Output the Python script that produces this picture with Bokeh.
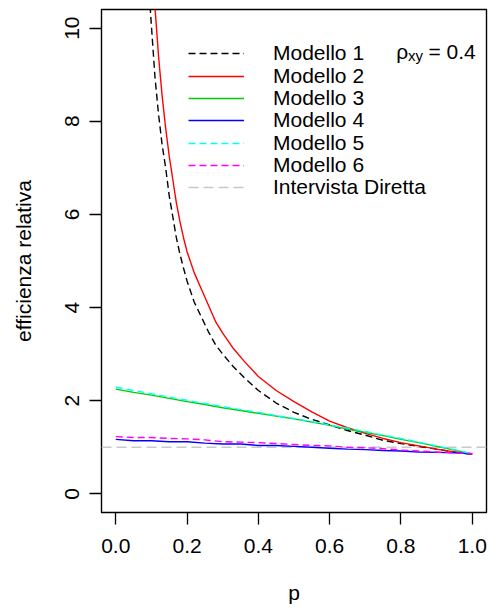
from bokeh.plotting import figure
from bokeh.models import Range1d, FixedTicker, Legend, LegendItem, Label
from bokeh.embed import file_html
from bokeh.resources import INLINE

# --- relative efficiency vs p, rho_xy = 0.4 ---
# Modello 1 and 2 diverge near p = 0, so they start further right
p_steep = [0.08, 0.09, 0.10, 0.11, 0.12, 0.13, 0.14, 0.15, 0.16, 0.17, 0.18, 0.19,
           0.20, 0.22, 0.24, 0.26, 0.28, 0.30, 0.33, 0.36, 0.40, 0.45, 0.50, 0.55,
           0.60, 0.65, 0.70, 0.75, 0.80, 0.85, 0.90, 0.95, 1.00]
modello1 = [12.6, 11.2, 10.05, 8.95, 8.15, 7.5, 7.0, 6.4, 5.95, 5.5, 5.15, 4.85,
            4.57, 4.12, 3.80, 3.48, 3.20, 3.00, 2.73, 2.50, 2.22, 1.95, 1.75, 1.60,
            1.48, 1.36, 1.26, 1.15, 1.08, 1.02, 0.96, 0.90, 0.85]
modello2 = [14.5, 12.9, 11.6, 10.45, 9.4, 8.55, 7.85, 7.25, 6.75, 6.25, 5.85, 5.5,
            5.2, 4.75, 4.4, 4.05, 3.7, 3.45, 3.12, 2.85, 2.52, 2.22, 1.98, 1.76,
            1.56, 1.42, 1.30, 1.19, 1.10, 1.03, 0.96, 0.90, 0.85]

p_grid = [0.00, 0.05, 0.10, 0.15, 0.20, 0.25, 0.30, 0.35, 0.40, 0.45, 0.50,
          0.55, 0.60, 0.65, 0.70, 0.75, 0.80, 0.85, 0.90, 0.95, 1.00]
modello3 = [2.25, 2.18, 2.12, 2.05, 1.98, 1.92, 1.85, 1.79, 1.73, 1.67, 1.61,
            1.54, 1.47, 1.39, 1.32, 1.25, 1.17, 1.10, 1.02, 0.94, 0.86]
modello4 = [1.17, 1.14, 1.14, 1.12, 1.12, 1.09, 1.07, 1.07, 1.04, 1.04, 1.02,
            1.00, 0.98, 0.96, 0.95, 0.93, 0.92, 0.90, 0.89, 0.88, 0.86]
modello5 = [2.29, 2.22, 2.15, 2.08, 2.01, 1.94, 1.87, 1.81, 1.75, 1.68, 1.62,
            1.55, 1.48, 1.41, 1.34, 1.26, 1.19, 1.11, 1.03, 0.95, 0.86]
modello6 = [1.23, 1.21, 1.21, 1.19, 1.18, 1.16, 1.12, 1.11, 1.10, 1.08, 1.06,
            1.04, 1.03, 1.00, 0.99, 0.97, 0.94, 0.92, 0.90, 0.88, 0.86]
intervista_diretta = 1.0

series_labels = ["Modello 1", "Modello 2", "Modello 3", "Modello 4",
                 "Modello 5", "Modello 6", "Intervista Diretta"]

x_ticks = [0.0, 0.2, 0.4, 0.6, 0.8, 1.0]
y_ticks = [0, 2, 4, 6, 8, 10]
x_lo, x_hi = -0.04, 1.04
y_lo, y_hi = -0.4, 10.4

FONT = "Liberation Sans"
FS = "21px"
W, H = 490, 609
BORDER_L, BORDER_R, BORDER_T, BORDER_B = 101, 4, 9, 97
FRAME_H = H - BORDER_T - BORDER_B

p = figure(width=W, height=H, output_backend="svg", toolbar_location=None,
           x_range=Range1d(x_lo, x_hi), y_range=Range1d(y_lo, y_hi),
           min_border_left=BORDER_L, min_border_right=BORDER_R,
           min_border_top=BORDER_T, min_border_bottom=BORDER_B)
p.grid.visible = False
p.outline_line_color = "black"
p.outline_line_width = 1.4
p.background_fill_color = "white"
p.border_fill_color = "white"

for ax in (p.xaxis[0], p.yaxis[0]):
    ax.axis_line_color = None
    ax.major_tick_line_color = "black"
    ax.major_tick_line_width = 1.3
    ax.major_tick_out = 12
    ax.major_tick_in = 0
    ax.minor_tick_line_color = None
    ax.major_label_text_font = FONT
    ax.major_label_text_font_size = FS
    ax.major_label_text_color = "black"
    ax.axis_label_text_font = FONT
    ax.axis_label_text_font_size = FS
    ax.axis_label_text_font_style = "normal"
    ax.axis_label_text_color = "black"

p.xaxis.ticker = FixedTicker(ticks=x_ticks)
p.xaxis.major_label_overrides = {t: f"{t:.1f}" for t in x_ticks}
p.xaxis.axis_label = "p"
p.xaxis.major_label_standoff = 14
p.xaxis.axis_label_standoff = 25

p.yaxis.ticker = FixedTicker(ticks=y_ticks)
p.yaxis.major_label_orientation = "vertical"
p.yaxis.axis_label = "efficienza relativa"
p.yaxis.major_label_standoff = 10
p.yaxis.axis_label_standoff = 28

LW = 1.4
r_id = p.line([x_lo, x_hi], [intervista_diretta, intervista_diretta],
              line_color="#c8c8c8", line_width=LW, line_dash="10 5")
r1 = p.line(p_steep, modello1, line_color="black", line_width=LW, line_dash="7 4")
r2 = p.line(p_steep, modello2, line_color="#ff0000", line_width=LW)
r3 = p.line(p_grid, modello3, line_color="#00cd00", line_width=LW)
r4 = p.line(p_grid, modello4, line_color="#0000ff", line_width=LW)
r5 = p.line(p_grid, modello5, line_color="#00ffff", line_width=LW, line_dash="7 4")
r6 = p.line(p_grid, modello6, line_color="#ff00ff", line_width=LW, line_dash="7 4")
renderers = [r1, r2, r3, r4, r5, r6, r_id]

# one single-row legend per series, so the row pitch can be set freely
ROW0, ROW_STEP, ROW_H = 44.3, 22.3, 26   # row centres below the frame top
for i, (lbl, rend) in enumerate(zip(series_labels, renderers)):
    centre = ROW0 + i * ROW_STEP
    lg = Legend(items=[LegendItem(label=lbl, renderers=[rend])],
                location=(87, FRAME_H - centre - ROW_H / 2),
                glyph_width=56, glyph_height=ROW_H, label_height=ROW_H,
                label_standoff=29, spacing=0, padding=0, margin=0,
                label_text_font=FONT, label_text_font_size=FS,
                label_text_color="black", border_line_alpha=0,
                background_fill_alpha=0)
    p.add_layout(lg)

# rho_xy = 0.4 annotation, drawn as symbol, subscript and value
p.add_layout(Label(x=0.787, y=9.49, text="ρ", text_font=FONT, text_font_size=FS,
                   text_baseline="alphabetic", text_color="black"))
p.add_layout(Label(x=0.820, y=9.42, text="xy", text_font=FONT, text_font_size="15px",
                   text_baseline="alphabetic", text_color="black"))
p.add_layout(Label(x=0.877, y=9.49, text="= 0.4", text_font=FONT, text_font_size=FS,
                   text_baseline="alphabetic", text_color="black"))

open("out.html", "w").write(file_html(p, INLINE))
